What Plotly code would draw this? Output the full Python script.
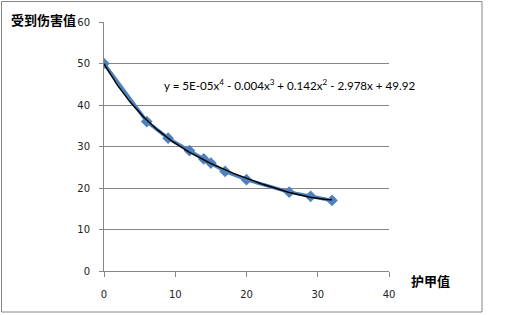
import numpy as np
import plotly.graph_objects as go

armor = [0, 6, 9, 12, 14, 15, 17, 20, 26, 29, 32]
damage = [50, 36, 32, 29, 27, 26, 24, 22, 19, 18, 17]
x_ticks = [0, 10, 20, 30, 40]
y_ticks = [0, 10, 20, 30, 40, 50, 60]
eq_text = "y = 5E-05x<sup>4</sup> - 0.004x<sup>3</sup> + 0.142x<sup>2</sup> - 2.978x + 49.92"

coef = np.polyfit(armor, damage, 4)
xs = np.linspace(min(armor), max(armor), 200)
ys = np.polyval(coef, xs)

font = "Lato, 'Open Sans', sans-serif"
tick_font = dict(family="'DejaVu Sans', Verdana, sans-serif", size=10, color="#222")
fig = go.Figure()
fig.add_trace(go.Scatter(x=armor, y=damage, mode="lines+markers",
                         line=dict(color="#4F81BD", width=3.5),
                         marker=dict(symbol="diamond", size=9, color="#4F81BD"),
                         showlegend=False))
fig.add_trace(go.Scatter(x=xs, y=ys, mode="lines",
                         line=dict(color="#000000", width=1.5),
                         showlegend=False))

L, R, T, B = 104, 389, 22, 271
W, H = 530, 315
fig.update_layout(
    width=W, height=H,
    margin=dict(l=L, r=W - R, t=T, b=H - B),
    paper_bgcolor="white", plot_bgcolor="white",
    font=dict(family=font, size=11, color="#222"),
    xaxis=dict(range=[0, 40], tickvals=x_ticks, showgrid=False, zeroline=False,
               showline=True, linecolor="#868686", linewidth=1,
               ticks="outside", ticklen=5, tickcolor="#868686",
               tickfont=tick_font, ticklabelstandoff=9, fixedrange=True),
    yaxis=dict(range=[0, 60], tickvals=y_ticks, showgrid=True, gridcolor="#868686",
               gridwidth=1, zeroline=False, showline=True, linecolor="#868686",
               linewidth=1, ticks="outside", ticklen=4, tickcolor="#868686",
               tickfont=tick_font, ticklabelstandoff=7, fixedrange=True),
)

def px(x):
    return (x - L) / (R - L)

def py(y):
    return (B - y) / (B - T)

fig.add_shape(type="rect", xref="paper", yref="paper",
              x0=px(1.5), x1=px(482), y0=py(1.5), y1=py(312),
              line=dict(color="#868686", width=1), fillcolor="rgba(0,0,0,0)")

fig.add_annotation(text="受到伤害值", xref="paper", yref="paper",
                   x=px(9), y=py(20), xanchor="left", yanchor="middle",
                   showarrow=False, font=dict(size=13, color="#000",
                                              family="'Noto Sans CJK SC'", weight="bold"))
fig.add_annotation(text="护甲值", xref="paper", yref="paper",
                   x=px(409), y=py(280), xanchor="left", yanchor="middle",
                   showarrow=False, font=dict(size=13, color="#000",
                                              family="'Noto Sans CJK SC'", weight="bold"))
fig.add_annotation(text=eq_text, xref="paper", yref="paper",
                   x=px(162), y=py(84), xanchor="left", yanchor="middle",
                   showarrow=False, font=dict(size=11.6, color="#000", family=font))

fig.write_html("out.html")
